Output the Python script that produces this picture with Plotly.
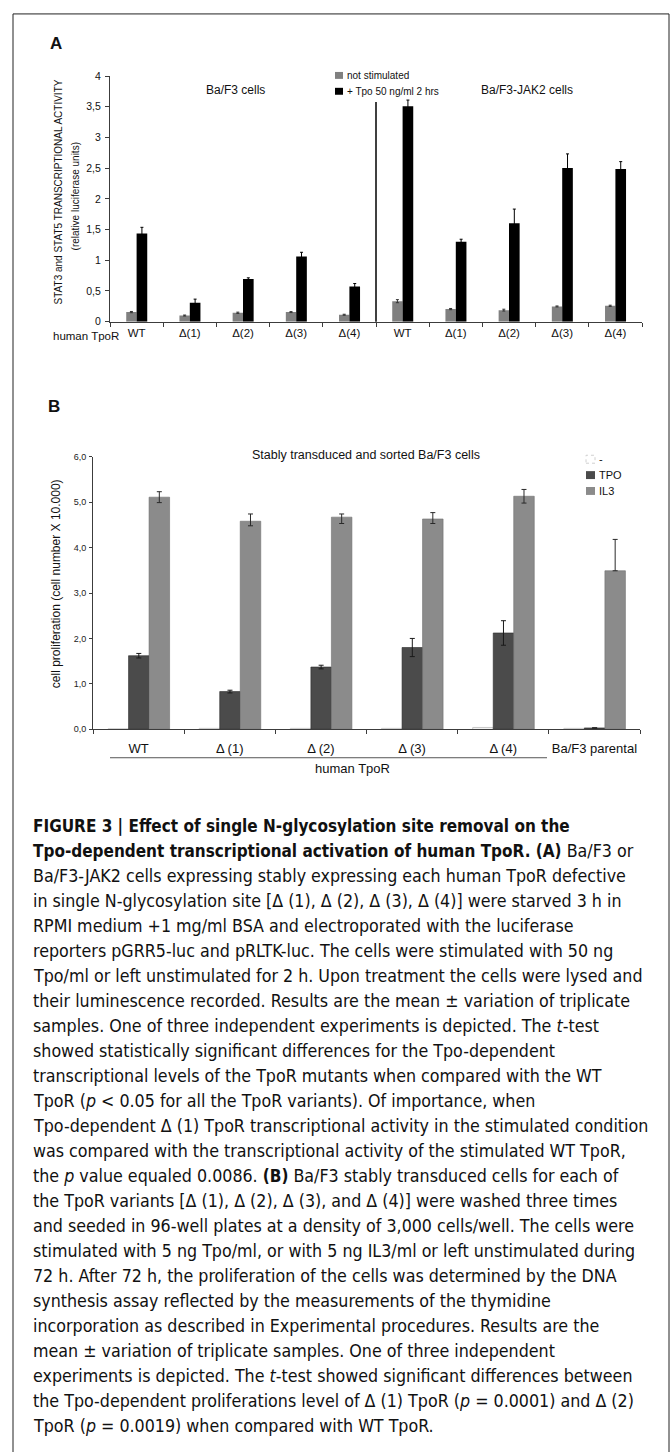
import plotly.graph_objects as go

W, H = 671, 1452

# ---------------- Panel A data ----------------
a_labels = ["WT", "Δ(1)", "Δ(2)", "Δ(3)", "Δ(4)", "WT", "Δ(1)", "Δ(2)", "Δ(3)", "Δ(4)"]
a_not_stim = [0.156, 0.100, 0.145, 0.156, 0.113, 0.334, 0.205, 0.188, 0.248, 0.258]
a_not_stim_err = [0.010, 0.008, 0.010, 0.008, 0.008, 0.025, 0.010, 0.015, 0.008, 0.010]
a_stim = [1.437, 0.307, 0.694, 1.060, 0.571, 3.510, 1.303, 1.604, 2.503, 2.487]
a_stim_err = [0.10, 0.06, 0.02, 0.07, 0.05, 0.10, 0.04, 0.23, 0.23, 0.12]
a_yticks = [0, 0.5, 1, 1.5, 2, 2.5, 3, 3.5, 4]
a_yticktext = ["0", "0,5", "1", "1,5", "2", "2,5", "3", "3,5", "4"]
a_series = ["not stimulated", "+ Tpo 50 ng/ml 2 hrs"]

# ---------------- Panel B data ----------------
b_labels = ["WT", "Δ (1)", "Δ (2)", "Δ (3)", "Δ (4)", "Ba/F3 parental"]
b_none = [0.01, 0.02, 0.02, 0.02, 0.04, 0.02]
b_tpo = [1.62, 0.83, 1.37, 1.80, 2.12, 0.03]
b_tpo_err = [0.05, 0.03, 0.04, 0.20, 0.27, 0.0]
b_il3 = [5.11, 4.58, 4.67, 4.63, 5.13, 3.49]
b_il3_err_plus = [0.12, 0.16, 0.07, 0.14, 0.15, 0.69]
b_il3_err_minus = [0.12, 0.10, 0.14, 0.10, 0.15, 0.0]
b_yticks = [0, 1, 2, 3, 4, 5, 6]
b_yticktext = ["0,0", "1,0", "2,0", "3,0", "4,0", "5,0", "6,0"]
b_series = ["-", "TPO", "IL3"]

BS = '<span style="font-size:17px"><b>'
BE = '</b></span>'
caption_lines = [
    BS + "FIGURE 3 | Effect of single N-glycosylation site removal on the" + BE,
    BS + "Tpo-dependent transcriptional activation of human TpoR. (A)" + BE + " Ba/F3 or",
    "Ba/F3-JAK2 cells expressing stably expressing each human TpoR defective",
    "in single N-glycosylation site [Δ (1), Δ (2), Δ (3), Δ (4)] were starved 3 h in",
    "RPMI medium +1 mg/ml BSA and electroporated with the luciferase",
    "reporters pGRR5-luc and pRLTK-luc. The cells were stimulated with 50 ng",
    "Tpo/ml or left unstimulated for 2 h. Upon treatment the cells were lysed and",
    "their luminescence recorded. Results are the mean ± variation of triplicate",
    "samples. One of three independent experiments is depicted. The <i>t</i>-test",
    "showed statistically significant differences for the Tpo-dependent",
    "transcriptional levels of the TpoR mutants when compared with the WT",
    "TpoR (<i>p</i> &lt; 0.05 for all the TpoR variants). Of importance, when",
    "Tpo-dependent Δ (1) TpoR transcriptional activity in the stimulated condition",
    "was compared with the transcriptional activity of the stimulated WT TpoR,",
    "the <i>p</i> value equaled 0.0086. " + BS + "(B)" + BE + " Ba/F3 stably transduced cells for each of",
    "the TpoR variants [Δ (1), Δ (2), Δ (3), and Δ (4)] were washed three times",
    "and seeded in 96-well plates at a density of 3,000 cells/well. The cells were",
    "stimulated with 5 ng Tpo/ml, or with 5 ng IL3/ml or left unstimulated during",
    "72 h. After 72 h, the proliferation of the cells was determined by the DNA",
    "synthesis assay reflected by the measurements of the thymidine",
    "incorporation as described in Experimental procedures. Results are the",
    "mean ± variation of triplicate samples. One of three independent",
    "experiments is depicted. The <i>t</i>-test showed significant differences between",
    "the Tpo-dependent proliferations level of Δ (1) TpoR (<i>p</i> = 0.0001) and Δ (2)",
    "TpoR (<i>p</i> = 0.0019) when compared with WT TpoR.",
]


def px(x):
    return x / W


def py(y):
    return 1 - y / H


FONT = "Liberation Sans, Arial, Helvetica, sans-serif"
CAPFONT = "DejaVu Sans Condensed, Liberation Sans Narrow, sans-serif"

fig = go.Figure()

xa = list(range(len(a_labels)))
fig.add_trace(go.Bar(
    x=xa, y=a_not_stim, name=a_series[0], xaxis="x", yaxis="y",
    width=0.195, offset=-0.195, marker=dict(color="#808080", line=dict(width=0)),
    error_y=dict(type="data", array=a_not_stim_err, color="#333", thickness=1, width=1.5),
))
fig.add_trace(go.Bar(
    x=xa, y=a_stim, name=a_series[1], xaxis="x", yaxis="y",
    width=0.2, offset=0.0, marker=dict(color="#000000", line=dict(width=0)),
    error_y=dict(type="data", array=a_stim_err, color="#000", thickness=1, width=1.5),
))

xb = list(range(len(b_labels)))
fig.add_trace(go.Bar(
    x=xb, y=b_none, name=b_series[0], xaxis="x2", yaxis="y2",
    width=0.225, offset=-0.335, marker=dict(color="#ffffff", line=dict(width=1, color="#c8c8c8")),
))
fig.add_trace(go.Bar(
    x=xb, y=b_tpo, name=b_series[1], xaxis="x2", yaxis="y2",
    width=0.225, offset=-0.11, marker=dict(color="#4b4b4b", line=dict(width=0.6, color="#2a2a2a")),
    error_y=dict(type="data", array=b_tpo_err, color="#1a1a1a", thickness=1, width=2.5),
))
fig.add_trace(go.Bar(
    x=xb, y=b_il3, name=b_series[2], xaxis="x2", yaxis="y2",
    width=0.225, offset=0.115, marker=dict(color="#8b8b8b", line=dict(width=0.6, color="#6e6e6e")),
    error_y=dict(type="data", symmetric=False, array=b_il3_err_plus, arrayminus=b_il3_err_minus,
                 color="#2a2a2a", thickness=1, width=2.5),
))

axcol = "#3c3c3c"
layout = dict(
    width=W, height=H, margin=dict(l=0, r=0, t=0, b=0),
    paper_bgcolor="white", plot_bgcolor="white", showlegend=False,
    font=dict(family=FONT, color="#111"),
    barmode="overlay",
    xaxis=dict(domain=[px(110), px(642)], range=[-0.5, len(a_labels) - 0.5], anchor="y",
               tickvals=xa, ticktext=a_labels, ticks="", showline=True, linecolor=axcol, linewidth=1,
               showgrid=False, zeroline=False, tickfont=dict(size=11.5, color="#111"),
               ticklabelstandoff=1,
               minor=dict(tickvals=[i - 0.5 for i in range(len(a_labels) + 1)], ticks="outside",
                          ticklen=4, tickcolor=axcol, tickwidth=1, showgrid=False)),
    yaxis=dict(domain=[py(318.3), py(70.7)], range=[0, 4], anchor="x",
               tickvals=a_yticks, ticktext=a_yticktext, ticks="outside", ticklen=4, tickcolor=axcol,
               showline=True, linecolor=axcol, linewidth=1, showgrid=False, zeroline=False,
               tickfont=dict(size=10.5, color="#111"), ticklabelstandoff=2),
    xaxis2=dict(domain=[px(93), px(640)], range=[-0.5, len(b_labels) - 0.5], anchor="y2",
                tickvals=xb, ticktext=b_labels, ticks="", showline=True, linecolor=axcol, linewidth=1,
                showgrid=False, zeroline=False, tickfont=dict(size=13, color="#111"),
                ticklabelstandoff=7,
                minor=dict(tickvals=[i - 0.5 for i in range(len(b_labels) + 1)], ticks="outside",
                           ticklen=4, tickcolor=axcol, tickwidth=1, showgrid=False)),
    yaxis2=dict(domain=[py(729.3), py(454.5)], range=[0, 6], anchor="x2",
                tickvals=b_yticks, ticktext=b_yticktext, ticks="outside", ticklen=3, tickcolor=axcol,
                showline=True, linecolor=axcol, linewidth=1, showgrid=False, zeroline=False,
                tickfont=dict(size=9, color="#222"), ticklabelstandoff=1),
)
fig.update_layout(**layout)

ann = []


def A(text, x, y, size, xanchor="center", yanchor="middle", angle=0, family=FONT, color="#111"):
    ann.append(dict(text=text, x=px(x), y=py(y), xref="paper", yref="paper", showarrow=False,
                    xanchor=xanchor, yanchor=yanchor, textangle=angle,
                    font=dict(size=size, family=family, color=color)))


# Panel labels
A("<b>A</b>", 56, 38, 17)
A("<b>B</b>", 54, 404, 17)

# Panel A texts
A("STAT3 and STAT5 TRANSCRIPTIONAL ACTIVITY", 58, 188, 10, angle=-90)
A("(relative luciferase units)", 75, 192, 10, angle=-90)
A("human TpoR", 121, 333, 11.5, xanchor="right")
A("Ba/F3 cells", 235, 85, 12)
A("Ba/F3-JAK2 cells", 527, 85, 12)
A(a_series[0], 345, 70, 10, xanchor="left")
A(a_series[1], 345, 86, 10, xanchor="left")

# Panel B texts
A("cell proliferation (cell number X 10.000)", 56, 583, 12, angle=-90)
A("Stably transduced and sorted Ba/F3 cells", 366, 453, 12.5)
A("human TpoR", 352, 769, 13)
A(b_series[0], 597, 457, 11, xanchor="left")
A(b_series[1], 597, 473, 11, xanchor="left")
A(b_series[2], 597, 489, 11, xanchor="left")

# Caption
for i, line in enumerate(caption_lines):
    A(line, 31, 827.3 + i * 25.2, 17.7, xanchor="left", family=CAPFONT, color="#111")

fig.update_layout(annotations=ann)

shapes = [
    # outer frame (open at bottom)
    dict(type="rect", xref="paper", yref="paper", x0=px(13), x1=px(669), y0=py(1470), y1=py(8),
         line=dict(color="#222", width=1), fillcolor="rgba(0,0,0,0)"),
    # separator in panel A
    dict(type="line", xref="x", yref="y", x0=4.5, x1=4.5, y0=-0.06, y1=3.58,
         line=dict(color="#000", width=1.5)),
    # underline for human TpoR in panel B
    dict(type="line", xref="paper", yref="paper", x0=px(110), x1=px(547), y0=py(758), y1=py(758),
         line=dict(color="#555", width=1)),
    # legend A swatches
    dict(type="rect", xref="paper", yref="paper", x0=px(335), x1=px(343), y0=py(73.5), y1=py(66.5),
         line=dict(width=0), fillcolor="#808080"),
    dict(type="rect", xref="paper", yref="paper", x0=px(335), x1=px(343), y0=py(89.5), y1=py(82.5),
         line=dict(width=0), fillcolor="#000000"),
    # legend B swatches
    dict(type="rect", xref="paper", yref="paper", x0=px(586), x1=px(595), y0=py(461), y1=py(453),
         line=dict(width=1, color="#d0d0d0", dash="dot"), fillcolor="#ffffff"),
    dict(type="rect", xref="paper", yref="paper", x0=px(586), x1=px(595), y0=py(477), y1=py(469),
         line=dict(width=0), fillcolor="#4b4b4b"),
    dict(type="rect", xref="paper", yref="paper", x0=px(586), x1=px(595), y0=py(493), y1=py(485),
         line=dict(width=0), fillcolor="#8b8b8b"),
]
fig.update_layout(shapes=shapes)

fig.write_html("out.html")
